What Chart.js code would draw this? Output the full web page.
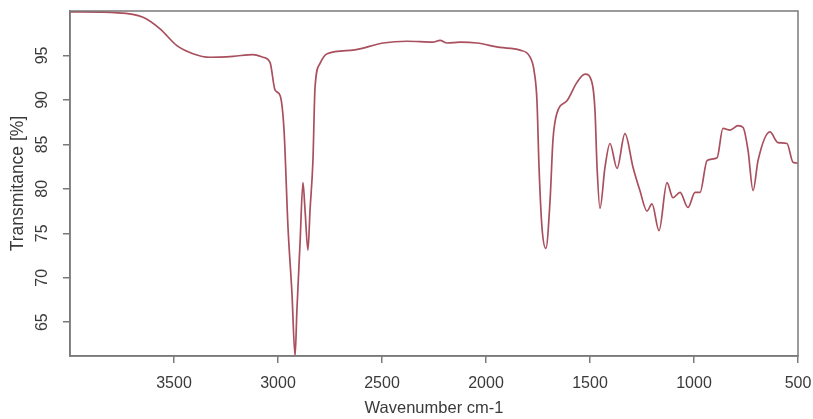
<!DOCTYPE html>
<html>
<head>
<meta charset="utf-8">
<script src="https://cdn.jsdelivr.net/npm/chart.js@4/dist/chart.umd.min.js"></script>
<style>
  html, body { margin: 0; padding: 0; background: #fff; }
  #wrap { width: 813px; height: 419px; }
</style>
</head>
<body>
<div id="wrap"><canvas id="ir"></canvas></div>
<script>
// IR spectrum: wavenumber (cm-1) and transmittance (%)
const wavenumbers = [
  4000, 3769, 3649, 3567, 3486, 3409, 3327, 3216, 3120, 3072, 3038, 3014, 2990, 2971,
  2952, 2933, 2918, 2909, 2894, 2880, 2870, 2856, 2846, 2832, 2822, 2798, 2764, 2639,
  2495, 2380, 2255, 2221, 2187, 2125, 2043, 1933, 1837, 1788, 1769, 1755, 1745, 1731,
  1712, 1692, 1678, 1659, 1611, 1562, 1524, 1490, 1476, 1466, 1452, 1428, 1404, 1370,
  1332, 1293, 1260, 1226, 1202, 1168, 1130, 1101, 1067, 1029, 995, 971, 937, 889,
  861, 827, 788, 764, 740, 716, 692, 635, 596, 553, 524, 500
];
const transmittance = [
  99.9, 99.8, 99.3, 98.0, 96.1, 95.2, 94.8, 94.9, 95.1, 94.8, 94.2, 91.1, 90.5, 86.6,
  75.7, 68.3, 61.2, 66.4, 73.9, 80.7, 77.6, 73.1, 77.6, 83.2, 91.4, 94.1, 95.2, 95.6,
  96.4, 96.6, 96.5, 96.7, 96.4, 96.5, 96.4, 95.9, 95.6, 94.8, 93.3, 89.9, 82.4, 75.7,
  73.3, 78.7, 85.5, 88.5, 89.9, 92.0, 92.9, 91.9, 88.8, 82.4, 77.8, 82.4, 85.1, 82.3,
  86.2, 82.4, 79.8, 77.5, 78.3, 75.3, 80.7, 79.0, 79.6, 77.9, 79.6, 79.6, 83.2, 83.5,
  86.8, 86.6, 87.1, 86.9, 84.3, 79.8, 83.2, 86.4, 85.2, 85.1, 83.0, 82.9
];
const xTicks = [3500, 3000, 2500, 2000, 1500, 1000, 500];
const yTicks = [65, 70, 75, 80, 85, 90, 95];

const axisGrey = '#7a7a7a';
const textGrey = '#3a3a3a';
const fontFamily = '"Liberation Sans", Arial, sans-serif';

// box around the plot area (R style)
const boxPlugin = {
  id: 'box',
  afterDraw(chart) {
    const {ctx, chartArea: a} = chart;
    ctx.save();
    ctx.strokeStyle = axisGrey;
    ctx.lineWidth = 1.5;
    ctx.strokeRect(a.left, a.top, a.right - a.left, a.bottom - a.top);
    ctx.restore();
  }
};

new Chart(document.getElementById('ir'), {
  type: 'line',
  data: {
    datasets: [{
      data: wavenumbers.map((w, i) => ({x: w, y: transmittance[i]})),
      borderColor: '#a94f5d',
      borderWidth: 1.7,
      pointRadius: 0,
      fill: false,
      cubicInterpolationMode: 'monotone'
    }]
  },
  options: {
    responsive: true,
    maintainAspectRatio: false,
    animation: false,
    layout: { padding: { left: 0, right: 15, top: 11, bottom: 0 } },
    plugins: { legend: { display: false }, tooltip: { enabled: false } },
    scales: {
      x: {
        type: 'linear',
        reverse: true,
        min: 500,
        max: 4000,
        afterBuildTicks: s => { s.ticks = xTicks.map(v => ({value: v})); },
        afterFit: s => { s.height = 63; s.paddingLeft = 0; s.paddingRight = 0; },
        border: { display: true, color: axisGrey, width: 1.5 },
        grid: { drawOnChartArea: false, drawTicks: true, tickLength: 7, color: axisGrey, lineWidth: 1.5 },
        ticks: {
          color: textGrey, padding: 11, maxRotation: 0,
          callback: v => String(v),
          font: { family: fontFamily, size: 16 }
        },
        title: {
          display: true,
          text: 'Wavenumber cm-1',
          color: textGrey,
          padding: { top: 0, bottom: 1 },
          font: { family: fontFamily, size: 16.5 }
        }
      },
      y: {
        min: 61.2,
        max: 100,
        afterBuildTicks: s => { s.ticks = yTicks.map(v => ({value: v})); },
        afterFit: s => { s.width = 70; s.paddingTop = 0; s.paddingBottom = 0; },
        border: { display: true, color: axisGrey, width: 1.5 },
        grid: { drawOnChartArea: false, drawTicks: true, tickLength: 7, color: axisGrey, lineWidth: 1.5 },
        ticks: {
          color: textGrey, padding: 12, minRotation: 90, maxRotation: 90, crossAlign: 'center',
          font: { family: fontFamily, size: 16 }
        },
        title: {
          display: true,
          text: 'Transmitance [%]',
          color: textGrey,
          padding: { top: 8, bottom: 0 },
          font: { family: fontFamily, size: 17.5 }
        }
      }
    }
  },
  plugins: [boxPlugin]
});
</script>
</body>
</html>
